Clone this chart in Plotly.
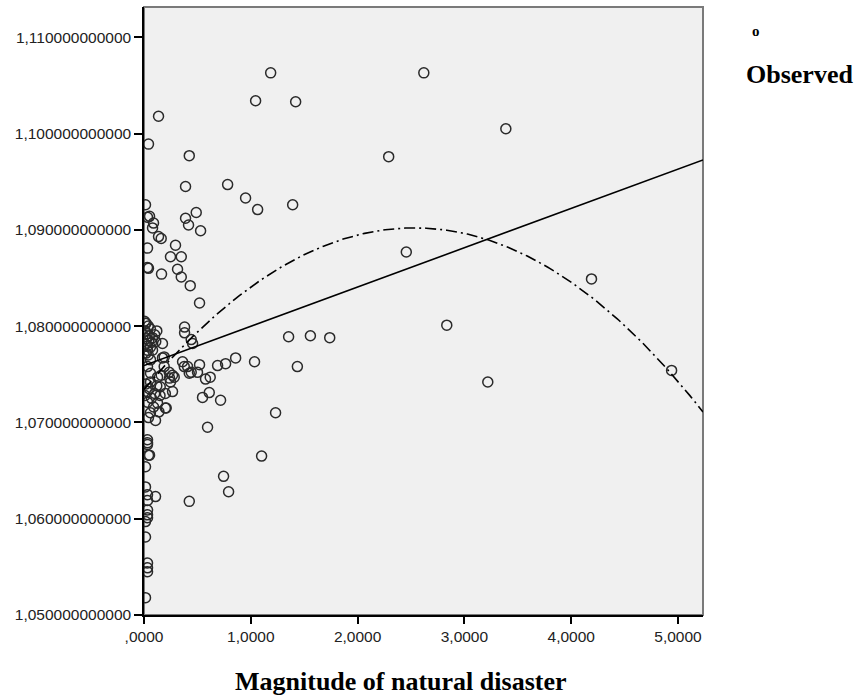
import numpy as np
import plotly.graph_objects as go

# ---- data ----
magnitude = [
    1.186, 2.62, 1.045, 1.42, 0.136, 2.291, 3.388, 0.042, 0.424, 0.389, 0.783,
    0.951, 1.392, 1.064, 2.456, 2.835, 3.219, 4.19, 4.94,
    0.014, 0.052, 0.033, 0.089, 0.080, 0.136, 0.161, 0.033, 0.033, 0.042, 0.164,
    0.389, 0.489, 0.417, 0.53, 0.295, 0.248, 0.349, 0.314, 0.349, 0.433, 0.52,
    0.38, 0.014,
    0.38, 0.442, 0.455, 0.173, 0.173, 0.361, 0.408, 0.442, 0.52, 0.689, 0.764,
    0.858, 1.035, 0.267, 0.208, 0.161, 0.239, 0.267, 0.576, 0.62, 0.611, 0.548,
    0.717, 0.595, 1.101, 0.745, 0.792, 0.424, 1.232, 1.354, 1.558, 1.739, 1.436,
    0.501, 0.377, 0.283, 0.236, 0.189, 0.189, 0.061, 0.033, 0.061, 0.080, 0.033,
    0.127, 0.061, 0.152, 0.248, 0.424,
    0.033, 0.127, 0.2, 0.14, 0.042, 0.108, 0.033, 0.033, 0.033, 0.042, 0.014,
    0.052, 0.014, 0.033, 0.108, 0.033, 0.033, 0.033, 0.033, 0.014, 0.014, 0.033,
    0.033, 0.033, 0.014,
    0.005, 0.02, 0.04, 0.06, 0.01, 0.03, 0.05, 0.08, 0.02, 0.045, 0.07, 0.01,
    0.03, 0.1, 0.12, 0.11, 0.06, 0.02, 0.04,
    0.02, 0.05, 0.1, 0.01, 0.07, 0.15, 0.03, 0.12, 0.2, 0.09, 0.06,
]
observed = [
    1.1063, 1.1063, 1.1034, 1.1033, 1.1018, 1.0976, 1.1005, 1.0989, 1.0977, 1.0945, 1.0947,
    1.0933, 1.0926, 1.0921, 1.0877, 1.0801, 1.0742, 1.0849, 1.0754,
    1.0926, 1.0914, 1.0913, 1.0907, 1.0902, 1.0893, 1.0891, 1.0881, 1.0861, 1.0860, 1.0854,
    1.0912, 1.0918, 1.0905, 1.0899, 1.0884, 1.0872, 1.0872, 1.0859, 1.0851, 1.0842, 1.0824,
    1.0799, 1.0803,
    1.0793, 1.0786, 1.0782, 1.0782, 1.0767, 1.0763, 1.0758, 1.0752, 1.0760, 1.0759, 1.0761,
    1.0767, 1.0763, 1.0732, 1.0715, 1.0749, 1.0746, 1.0749, 1.0745, 1.0747, 1.0731, 1.0726,
    1.0723, 1.0695, 1.0665, 1.0644, 1.0628, 1.0618, 1.0710, 1.0789, 1.0790, 1.0788, 1.0758,
    1.0752, 1.0758, 1.0747, 1.0752, 1.0758, 1.0768, 1.0765, 1.0758, 1.0751, 1.0775, 1.0775,
    1.0747, 1.0742, 1.0737, 1.0742, 1.0751,
    1.0721, 1.0720, 1.0715, 1.0711, 1.0705, 1.0702, 1.0682, 1.0677, 1.0679, 1.0666, 1.0654,
    1.0666, 1.0633, 1.0625, 1.0623, 1.0619, 1.0609, 1.0604, 1.0601, 1.0597, 1.0581, 1.0554,
    1.0549, 1.0545, 1.0518,
    1.0805, 1.0803, 1.0800, 1.0797, 1.0795, 1.0792, 1.0790, 1.0788, 1.0787, 1.0785, 1.0783, 1.0781,
    1.0779, 1.0791, 1.0795, 1.0784, 1.0778, 1.0772, 1.0770,
    1.0740, 1.0735, 1.0730, 1.0728, 1.0725, 1.0728, 1.0732, 1.0738, 1.0730, 1.0716, 1.0710,
]

# fitted curves (coefficients)
linear_coef = [1.0759, 0.00408]                   # intercept, slope
quadratic_coef = [1.07342, 0.013257, -0.002618]   # a + b x + c x^2

x_tick_vals = [0, 1, 2, 3, 4, 5]
x_tick_text = [",0000", "1,0000", "2,0000", "3,0000", "4,0000", "5,0000"]
y_tick_vals = [1.05, 1.06, 1.07, 1.08, 1.09, 1.10, 1.11]
y_tick_text = ["1,050000000000", "1,060000000000", "1,070000000000",
               "1,080000000000", "1,090000000000", "1,100000000000",
               "1,110000000000"]

x_range = [0, 5.234]
y_range = [1.05, 1.11314]

fit_x = np.linspace(x_range[0], x_range[1], 300)
lin_y = linear_coef[0] + linear_coef[1] * fit_x
quad_y = quadratic_coef[0] + quadratic_coef[1] * fit_x + quadratic_coef[2] * fit_x ** 2

fig = go.Figure()
fig.add_trace(go.Scatter(
    x=magnitude, y=observed, mode="markers", name="Observed",
    marker=dict(symbol="circle-open", size=10, color="#2a2a2a",
                line=dict(width=1.5, color="#2a2a2a")),
    hoverinfo="x+y",
))
fig.add_trace(go.Scatter(
    x=fit_x, y=lin_y, mode="lines", name="Linear",
    line=dict(color="black", width=1.6),
))
fig.add_trace(go.Scatter(
    x=fit_x, y=quad_y, mode="lines", name="Quadratic",
    line=dict(color="black", width=1.6, dash="11px,4px,2px,4px"),
))

tick_font = dict(family="Liberation Sans, Arial, sans-serif", size=15.5, color="#222222")
serif = "Liberation Serif, Times New Roman, serif"

fig.update_layout(
    width=859, height=698,
    margin=dict(l=144, r=156, t=7, b=83, pad=0),
    paper_bgcolor="white",
    plot_bgcolor="#f0f0f0",
    showlegend=False,
    xaxis=dict(
        range=x_range, tickvals=x_tick_vals, ticktext=x_tick_text,
        showgrid=False, zeroline=False, showline=True, linecolor="black",
        linewidth=1.5, ticks="outside", ticklen=7, tickwidth=1.5,
        tickcolor="black", tickfont=tick_font, automargin=False,
    ),
    yaxis=dict(
        range=y_range, tickvals=y_tick_vals, ticktext=y_tick_text,
        showgrid=False, zeroline=False, showline=True, linecolor="black",
        linewidth=1.5, ticks="outside", ticklen=8, tickwidth=1.5,
        tickcolor="black", tickfont=tick_font, automargin=False,
    ),
    shapes=[dict(type="rect", xref="paper", yref="paper", x0=0, y0=0, x1=1, y1=1,
                 line=dict(color="#7a7a7a", width=2), layer="below")],
    annotations=[
        dict(text="<b>Magnitude of natural disaster</b>", xref="paper", yref="paper",
             x=0.46, y=-0.1086, xanchor="center", yanchor="middle", showarrow=False,
             font=dict(family=serif, size=26, color="black")),
        dict(text="<b>o</b>", xref="paper", yref="paper", x=1.0945, y=0.96,
             xanchor="center", yanchor="middle", showarrow=False,
             font=dict(family=serif, size=15, color="black")),
        dict(text="<b>Observed</b>", xref="paper", yref="paper", x=1.073, y=0.889,
             xanchor="left", yanchor="middle", showarrow=False,
             font=dict(family=serif, size=26, color="black")),
    ],
)

fig.write_html("out.html", config={"displayModeBar": False},
               post_script="document.body.style.margin='0px';")
